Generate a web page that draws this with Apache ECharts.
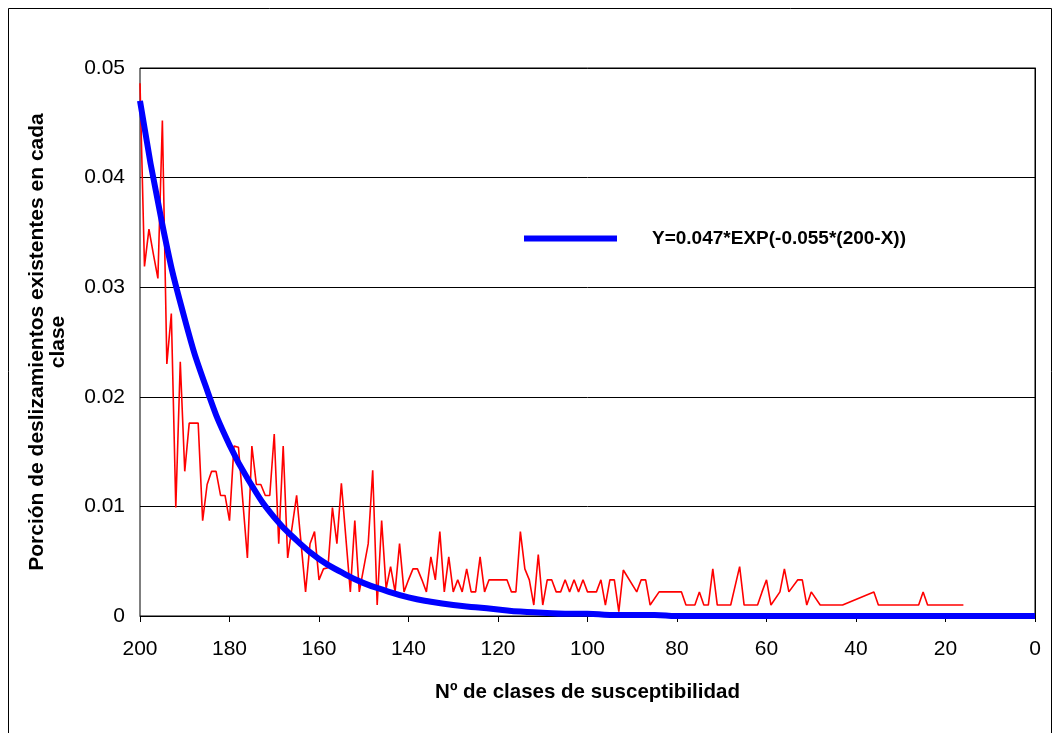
<!DOCTYPE html>
<html>
<head>
<meta charset="utf-8">
<script src="https://cdn.jsdelivr.net/npm/echarts@6/dist/echarts.min.js"></script>
<style>
  html, body { margin: 0; padding: 0; background: #fff; }
  #chart { width: 1060px; height: 733px; }
</style>
</head>
<body>
<div id="chart"></div>
<script>
// ---- Data ----
// Red series: classes 200 down to 16 (one value per class; null = no point, line connects across)
const redStartClass = 200;
const redValues = [
  0.0486, 0.0319, 0.0353, 0.0330, 0.0308, 0.0452, 0.0230, 0.0276, 0.0099, 0.0232, // 200-191
  0.0132, 0.0176, 0.0176, 0.0176, 0.0087, 0.0120, 0.0132, 0.0132, 0.0110, 0.0110, // 190-181
  0.0087, 0.0155, 0.0154, null,   0.0053, 0.0155, 0.0120, 0.0120, 0.0110, 0.0110, // 180-171
  0.0166, 0.0066, 0.0155, 0.0053, null,   0.0110, null,   0.0022, 0.0066, 0.0077, // 170-161
  0.0033, 0.0043, 0.0044, 0.0099, 0.0066, 0.0121, null,   0.0022, 0.0087, 0.0022, // 160-151
  null,   0.0066, 0.0133, 0.0010, 0.0087, 0.0025, 0.0045, 0.0022, 0.0066, 0.0022, // 150-141
  0.0033, 0.0043, 0.0043, 0.0033, 0.0022, 0.0054, 0.0033, 0.0077, 0.0022, 0.0054, // 140-131
  0.0022, 0.0033, 0.0022, 0.0043, 0.0022, 0.0022, 0.0054, 0.0022, 0.0033, 0.0033, // 130-121
  0.0033, 0.0033, 0.0033, 0.0022, 0.0022, 0.0077, 0.0043, 0.0033, 0.0010, 0.0056, // 120-111
  0.0010, 0.0033, 0.0033, 0.0022, 0.0022, 0.0033, 0.0022, 0.0033, 0.0022, 0.0033, // 110-101
  0.0022, 0.0022, 0.0022, 0.0033, 0.0010, 0.0033, 0.0033, 0.0004, 0.0042, null,   // 100-91
  null,   0.0022, 0.0033, 0.0033, 0.0010, null,   0.0022, 0.0022, 0.0022, 0.0022, // 90-81
  0.0022, 0.0022, 0.0010, 0.0010, 0.0010, 0.0022, 0.0010, 0.0010, 0.0043, 0.0010, // 80-71
  0.0010, 0.0010, 0.0010, null,   0.0045, 0.0010, 0.0010, 0.0010, 0.0010, 0.0022, // 70-61
  0.0033, 0.0010, null,   0.0022, 0.0043, 0.0022, null,   0.0033, 0.0033, 0.0010, // 60-51
  0.0022, null,   0.0010, 0.0010, 0.0010, 0.0010, 0.0010, 0.0010, null,   null,   // 50-41
  null,   null,   null,   null,   0.0022, 0.0010, 0.0010, 0.0010, 0.0010, 0.0010, // 40-31
  0.0010, 0.0010, 0.0010, 0.0010, 0.0010, 0.0022, 0.0010, 0.0010, 0.0010, 0.0010, // 30-21
  0.0010, 0.0010, 0.0010, 0.0010, 0.0010                                          // 20-16
];

// Blue fitted curve, every 5 classes
const blueClasses = [200,195,190,185,180,175,170,165,160,155,150,145,140,135,130,125,120,115,110,105,100,95,90,85,80,75,70,65,60,55,50,45,40,35,30,25,20,15,10,5,0];
const blueValues  = [0.0470,0.0357,0.0271,0.0206,0.0156,0.0119,0.0090,0.0069,0.0052,0.0040,0.0030,0.0023,0.0017,0.0013,0.0010,0.0008,0.0006,0.0004,0.0003,0.0002,0.0002,0.0001,0.0001,0.0001,0,0,0,0,0,0,0,0,0,0,0,0,0,0,0,0,0];

const blueName = 'Y=0.047*EXP(-0.055*(200-X))';
const redName = 'Porción observada';
const xTitle = 'Nº de clases de susceptibilidad';
const yTitle = 'Porción de deslizamientos existentes en cada\nclase';

// ---- Build series data ----
const redData = redValues.map((v, i) => [redStartClass - i, v]);
const blueData = blueClasses.map((c, i) => [c, blueValues[i]]);

const FONT = "'Liberation Sans', Arial, sans-serif";

const chart = echarts.init(document.getElementById('chart'), null, { renderer: 'canvas' });
chart.setOption({
  backgroundColor: '#fff',
  animation: false,
  graphic: [{
    type: 'rect',
    shape: { x: 8.5, y: 8.5, width: 1043, height: 740 },
    style: { fill: 'none', stroke: '#000', lineWidth: 1 },
    silent: true
  }],
  grid: {
    left: 140, right: 25, top: 68, bottom: 117,
    show: true, borderColor: '#000', borderWidth: 1, backgroundColor: 'transparent'
  },
  legend: {
    data: [{ name: blueName, icon: 'rect' }],
    left: 519, top: 224,
    itemWidth: 93, itemHeight: 6,
    textStyle: { fontFamily: FONT, fontSize: 19, fontWeight: 'bold', color: '#000', padding: [0, 0, 0, 30] }
  },
  xAxis: {
    type: 'value', min: 0, max: 200, interval: 20, inverse: true,
    name: xTitle, nameLocation: 'middle', nameGap: 66,
    nameTextStyle: { fontFamily: FONT, fontSize: 20.5, fontWeight: 'bold', color: '#000' },
    axisLine: { show: true, onZero: false, lineStyle: { color: '#000', width: 1 } },
    axisTick: { show: true, inside: false, length: 6, lineStyle: { color: '#000' } },
    axisLabel: { fontFamily: FONT, fontSize: 21, color: '#000', margin: 23 },
    splitLine: { show: false }
  },
  yAxis: {
    type: 'value', min: 0, max: 0.05, interval: 0.01,
    name: yTitle, nameLocation: 'middle', nameRotate: 90, nameGap: 71,
    nameTextStyle: { fontFamily: FONT, fontSize: 21, fontWeight: 'bold', color: '#000', lineHeight: 21, align: 'center' },
    axisLine: { show: true, lineStyle: { color: '#000', width: 1 } },
    axisTick: { show: true, inside: false, length: 6, lineStyle: { color: '#000' } },
    axisLabel: {
      fontFamily: FONT, fontSize: 21, color: '#000', margin: 15,
      formatter: v => (v === 0 ? '0' : v.toFixed(2))
    },
    splitLine: { show: true, lineStyle: { color: '#000', width: 1 } }
  },
  series: [
    {
      name: redName, type: 'line', data: redData, connectNulls: true,
      showSymbol: false, symbol: 'none',
      lineStyle: { color: '#ff0000', width: 1.6 }, itemStyle: { color: '#ff0000' },
      z: 2
    },
    {
      name: blueName, type: 'line', data: blueData,
      smooth: 0.5,
      showSymbol: false, symbol: 'none',
      lineStyle: { color: '#0000ff', width: 6 }, itemStyle: { color: '#0000ff' },
      z: 3
    }
  ]
});
</script>
</body>
</html>
